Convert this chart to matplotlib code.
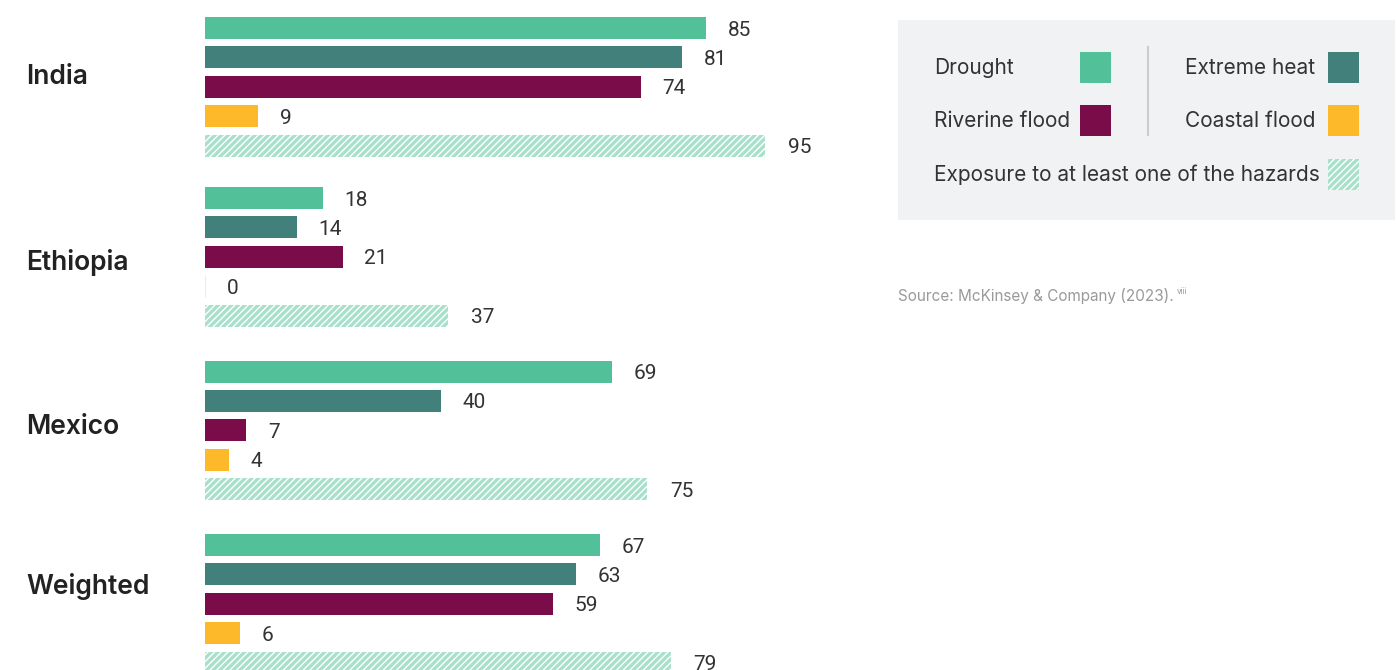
import matplotlib
matplotlib.use("Agg")
import matplotlib.pyplot as plt
from matplotlib.patches import Rectangle

countries = ["India", "Ethiopia", "Mexico", "Weighted"]
hazards = ["Drought", "Extreme heat", "Riverine flood", "Coastal flood",
           "Exposure to at least one of the hazards"]
drought = [85, 18, 69, 67]
extreme_heat = [81, 14, 40, 63]
riverine_flood = [74, 21, 7, 59]
coastal_flood = [9, 0, 4, 6]
exposure_any = [95, 37, 75, 79]

colors = ["#52C199", "#42807C", "#7A0C4A", "#FDB92A", "#A8E0CC"]
series = [drought, extreme_heat, riverine_flood, coastal_flood, exposure_any]

plt.rcParams['hatch.linewidth'] = 1.0
plt.rcParams['font.family'] = ['Inter', 'DejaVu Sans']

W, H = 1397, 670
fig = plt.figure(figsize=(W / 100, H / 100), dpi=100)
fig.patch.set_facecolor("white")

# layout (pixels)
left_px, right_px = 205, 885
group_top = [28, 198, 371.5, 545]
px_per_unit = [5.894, 6.56, 5.894, 5.894]   # the source draws Ethiopia on its own scale
bar_step = 29.4
bar_h = 22
num_font = ["Roboto", "DejaVu Sans"]

for g, c in enumerate(countries):
    ax = fig.add_axes([left_px / W, 0, (right_px - left_px) / W, 1])
    ax.set_xlim(0, (right_px - left_px) / px_per_unit[g])
    ax.set_ylim(H, 0)
    ax.axis("off")
    ax.patch.set_alpha(0)
    for i, s in enumerate(series):
        yc = group_top[g] + i * bar_step
        v = s[g]
        if i == 4:
            ax.barh(yc, v, height=bar_h, color=colors[i], edgecolor="white",
                    linewidth=0, hatch="/////")
            off = 16.5
        else:
            if v == 0:
                ax.barh(yc, v, height=bar_h, color=colors[i],
                        edgecolor="#FDEBC8", linewidth=0.8)
            else:
                ax.barh(yc, v, height=bar_h, color=colors[i], linewidth=0)
            off = 15.5
        ax.annotate(str(v), (v, yc), xytext=(off, -1.5), textcoords="offset points",
                    va="center", ha="left", fontsize=15, color="#333333",
                    family=num_font)

# overlay axes in pixel coords
ov = fig.add_axes([0, 0, 1, 1], zorder=-1)
ov.set_xlim(0, W)
ov.set_ylim(H, 0)
ov.axis("off")

label_y = [77, 263, 427, 586]
for c, y in zip(countries, label_y):
    ov.text(26, y, c, fontsize=19, fontweight="semibold", color="#222222",
            va="center", ha="left")

# legend box
ov.add_patch(Rectangle((898, 20), 497, 200, facecolor="#F1F2F4",
                       edgecolor="none"))
ov.plot([1148, 1148], [47, 135], color="#CCCCCC", lw=1.5)
sw = 31
leg_items = [
    (hazards[0], 934, 68, 1080, 0),
    (hazards[1], 1185, 68, 1328, 1),
    (hazards[2], 934, 121, 1080, 2),
    (hazards[3], 1185, 121, 1328, 3),
    (hazards[4], 934, 175, 1328, 4),
]
for txt, tx, ty, sx, ci in leg_items:
    ov.text(tx, ty, txt, fontsize=15, color="#333333", va="center", ha="left")
    sy = ty - 1 - sw / 2
    if ci == 4:
        ov.add_patch(Rectangle((sx, sy), sw, sw, facecolor=colors[ci],
                               edgecolor="white", linewidth=0, hatch="/////"))
    else:
        ov.add_patch(Rectangle((sx, sy), sw, sw, facecolor=colors[ci],
                               edgecolor="none"))

ov.text(898, 296, "Source: McKinsey & Company (2023).", fontsize=11,
        color="#9A9A9A", va="center", ha="left")
ov.text(1177, 291, "viii", fontsize=6, color="#9A9A9A", va="center", ha="left")

fig.savefig("out.png", dpi=100, facecolor="white")
